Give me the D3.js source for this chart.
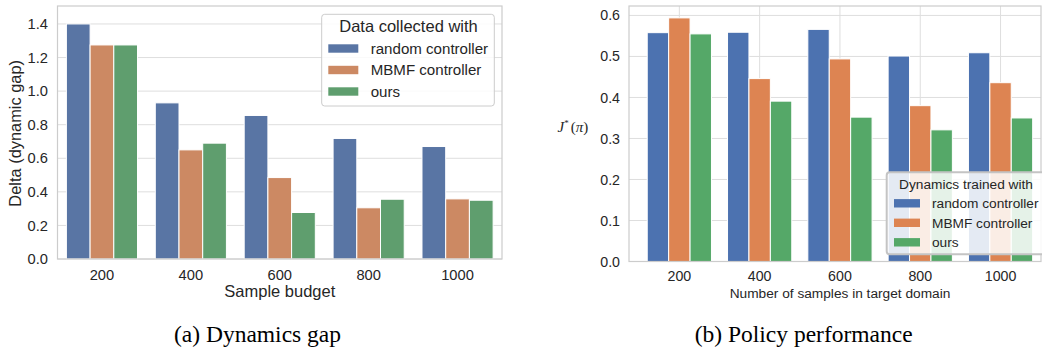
<!DOCTYPE html>
<html lang="en">
<head>
  <meta charset="UTF-8">
  <title>Dynamics gap and policy performance</title>
  <script src="https://d3js.org/d3.v7.min.js"></script>
  <style>
    body { margin: 0; background: #fff; }
    svg { display: block; }
    .sans { font-family: "Liberation Sans", Arial, sans-serif; fill: #262626; }
    .caption { font-family: "Liberation Serif", "Times New Roman", serif; fill: #000; }
  </style>
</head>
<body>
  <svg width="1042" height="350"></svg>

  <script>
    // categories and series
    const budgets = ["200", "400", "600", "800", "1000"];
    const seriesNames = ["random controller", "MBMF controller", "ours"];

    // (a) dynamics gap
    const gapRandom = [1.40, 0.93, 0.855, 0.718, 0.67];
    const gapMBMF   = [1.275, 0.65, 0.485, 0.305, 0.358];
    const gapOurs   = [1.275, 0.69, 0.277, 0.356, 0.35];
    const gapTicks  = [0, 0.2, 0.4, 0.6, 0.8, 1.0, 1.2, 1.4];

    // (b) policy performance
    const perfRandom = [0.558, 0.559, 0.566, 0.501, 0.509];
    const perfMBMF   = [0.594, 0.446, 0.494, 0.380, 0.436];
    const perfOurs   = [0.555, 0.391, 0.352, 0.321, 0.350];
    const perfTicks  = [0, 0.1, 0.2, 0.3, 0.4, 0.5, 0.6];

    const svg = d3.select("svg");

    function toRows(a, b, c) {
      return budgets.map((cat, i) => ({
        cat: cat,
        vals: [a[i], b[i], c[i]].map((v, j) => ({ series: seriesNames[j], value: v }))
      }));
    }

    function drawPanel(opt) {
      const g = svg.append("g");
      const { left, right, top, bottom } = opt.box;

      const x = d3.scaleBand().domain(budgets).range(opt.xRange).padding(0);
      const bw = x.bandwidth();
      const x1 = d3.scaleBand().domain(seriesNames).range([0.1 * bw, 0.9 * bw]).padding(0);
      const y = d3.scaleLinear().domain(opt.yDomain).range([bottom, top]);
      const color = d3.scaleOrdinal().domain(seriesNames).range(opt.colors);

      // horizontal grid
      g.append("g")
        .selectAll("line").data(opt.yTicks).join("line")
        .attr("x1", left).attr("x2", right)
        .attr("y1", d => y(d)).attr("y2", d => y(d))
        .attr("stroke", "#dedede").attr("stroke-width", 1);

      // vertical grid (right panel only)
      if (opt.xGrid) {
        g.append("g")
          .selectAll("line").data(budgets).join("line")
          .attr("x1", d => x(d) + bw / 2).attr("x2", d => x(d) + bw / 2)
          .attr("y1", top).attr("y2", bottom)
          .attr("stroke", "#dedede").attr("stroke-width", 1);
      }

      // bars
      g.append("g")
        .selectAll("g").data(toRows(...opt.data)).join("g")
        .attr("transform", d => `translate(${x(d.cat)},0)`)
        .selectAll("rect").data(d => d.vals).join("rect")
        .attr("x", d => x1(d.series))
        .attr("width", x1.bandwidth())
        .attr("y", d => y(d.value))
        .attr("height", d => y(0) - y(d.value))
        .attr("fill", d => color(d.series))
        .attr("stroke", "#fff")
        .attr("stroke-width", 1);

      // spines
      g.append("rect")
        .attr("x", left).attr("y", top)
        .attr("width", right - left).attr("height", bottom - top)
        .attr("fill", "none").attr("stroke", "#cccccc").attr("stroke-width", 1.2);

      // y axis labels
      const yAxis = g.append("g")
        .attr("transform", `translate(${left},0)`)
        .call(d3.axisLeft(y).tickValues(opt.yTicks).tickFormat(d3.format(".1f")).tickSize(0).tickPadding(left - opt.yLabelRight));
      yAxis.select(".domain").remove();
      yAxis.selectAll("text")
        .attr("class", "sans")
        .style("font-size", opt.tickSize + "px")
        .attr("fill", "#262626");

      // x axis labels
      const xAxis = g.append("g")
        .attr("transform", `translate(0,${bottom})`)
        .call(d3.axisBottom(x).tickSize(0).tickPadding(0));
      xAxis.select(".domain").remove();
      xAxis.selectAll("text")
        .attr("class", "sans")
        .attr("dy", null)
        .attr("y", opt.xTickBase - bottom)
        .style("font-size", opt.tickSize + "px")
        .attr("fill", "#262626");

      g.append("text")
        .attr("class", "sans")
        .attr("x", opt.xLabel.x).attr("y", opt.xLabel.y)
        .attr("text-anchor", "middle")
        .style("font-size", opt.xLabel.size + "px")
        .text(opt.xLabel.text);

      // legend
      const L = opt.legend;
      const lg = g.append("g");
      lg.append("rect")
        .attr("x", L.x).attr("y", L.y).attr("width", L.w).attr("height", L.h)
        .attr("rx", 3)
        .attr("fill", "rgba(255,255,255,0.85)")
        .attr("stroke", L.stroke).attr("stroke-width", L.strokeWidth);
      lg.append("text")
        .attr("class", "sans")
        .attr("x", L.titleX).attr("y", L.titleY)
        .attr("text-anchor", "middle")
        .style("font-size", L.titleSize + "px")
        .text(L.title);
      seriesNames.forEach((s, i) => {
        const cy = L.row0 + i * L.rowStep;
        lg.append("rect")
          .attr("x", L.patchX).attr("y", cy - 4.2)
          .attr("width", L.patchW).attr("height", 8.4)
          .attr("fill", color(s));
        lg.append("text")
          .attr("class", "sans")
          .attr("x", L.textX).attr("y", cy + L.size * 0.36)
          .style("font-size", L.size + "px")
          .text(s);
      });

      return g;
    }

    // (a) Dynamics gap
    const gA = drawPanel({
      box: { left: 57.5, right: 502, top: 6, bottom: 259 },
      xRange: [57.5, 502],
      yDomain: [0, 1.507],
      yTicks: gapTicks,
      yLabelRight: 48,
      tickSize: 14.7,
      xTickBase: 279.5,
      colors: ["#5975a4", "#cc8963", "#5f9e6e"],
      data: [gapRandom, gapMBMF, gapOurs],
      xGrid: false,
      xLabel: { x: 279.8, y: 297, size: 16.5, text: "Sample budget" },
      legend: {
        x: 321.7, y: 14.3, w: 172.6, h: 91.7,
        stroke: "#cccccc", strokeWidth: 1,
        title: "Data collected with", titleX: 408.5, titleY: 32.3, titleSize: 16.5,
        patchX: 328.3, patchW: 30, textX: 370.7,
        row0: 48.5, rowStep: 21.5, size: 15.1
      }
    });

    gA.append("text")
      .attr("class", "sans")
      .attr("transform", "translate(20.5,133.3) rotate(-90)")
      .attr("text-anchor", "middle")
      .style("font-size", "16.4px")
      .text("Delta (dynamic gap)");

    // (b) Policy performance
    const gB = drawPanel({
      box: { left: 629, right: 1041, top: 6, bottom: 261.5 },
      xRange: [639.2, 1040.7],
      yDomain: [0, 0.623],
      yTicks: perfTicks,
      yLabelRight: 620,
      tickSize: 14.2,
      xTickBase: 281,
      colors: ["#4c72b0", "#dd8452", "#55a868"],
      data: [perfRandom, perfMBMF, perfOurs],
      xGrid: true,
      xLabel: { x: 840, y: 298.2, size: 13.7, text: "Number of samples in target domain" },
      legend: {
        x: 886.7, y: 172.3, w: 170, h: 82,
        stroke: "#c4c4c4", strokeWidth: 2,
        title: "Dynamics trained with", titleX: 966, titleY: 189, titleSize: 13.7,
        patchX: 894, patchW: 26, textX: 932,
        row0: 203.3, rowStep: 19.5, size: 13.7
      }
    });

    const jl = gB.append("text")
      .attr("x", 557.5).attr("y", 131.5)
      .style("font-family", "'Liberation Serif', 'Times New Roman', serif")
      .style("font-size", "15px")
      .attr("fill", "#262626");
    jl.append("tspan").style("font-style", "italic").text("J");
    jl.append("tspan").attr("dy", -6).style("font-size", "9px").text("*");
    jl.append("tspan").attr("dy", 6).attr("dx", 2).text("(");
    jl.append("tspan").style("font-style", "italic").text("π");
    jl.append("tspan").text(")");

    // captions
    svg.append("text")
      .attr("class", "caption")
      .attr("x", 257.5).attr("y", 341.7)
      .attr("text-anchor", "middle")
      .style("font-size", "23.5px")
      .text("(a) Dynamics gap");

    svg.append("text")
      .attr("class", "caption")
      .attr("x", 803.7).attr("y", 341.7)
      .attr("text-anchor", "middle")
      .style("font-size", "23.5px")
      .text("(b) Policy performance");
  </script>
</body>
</html>
